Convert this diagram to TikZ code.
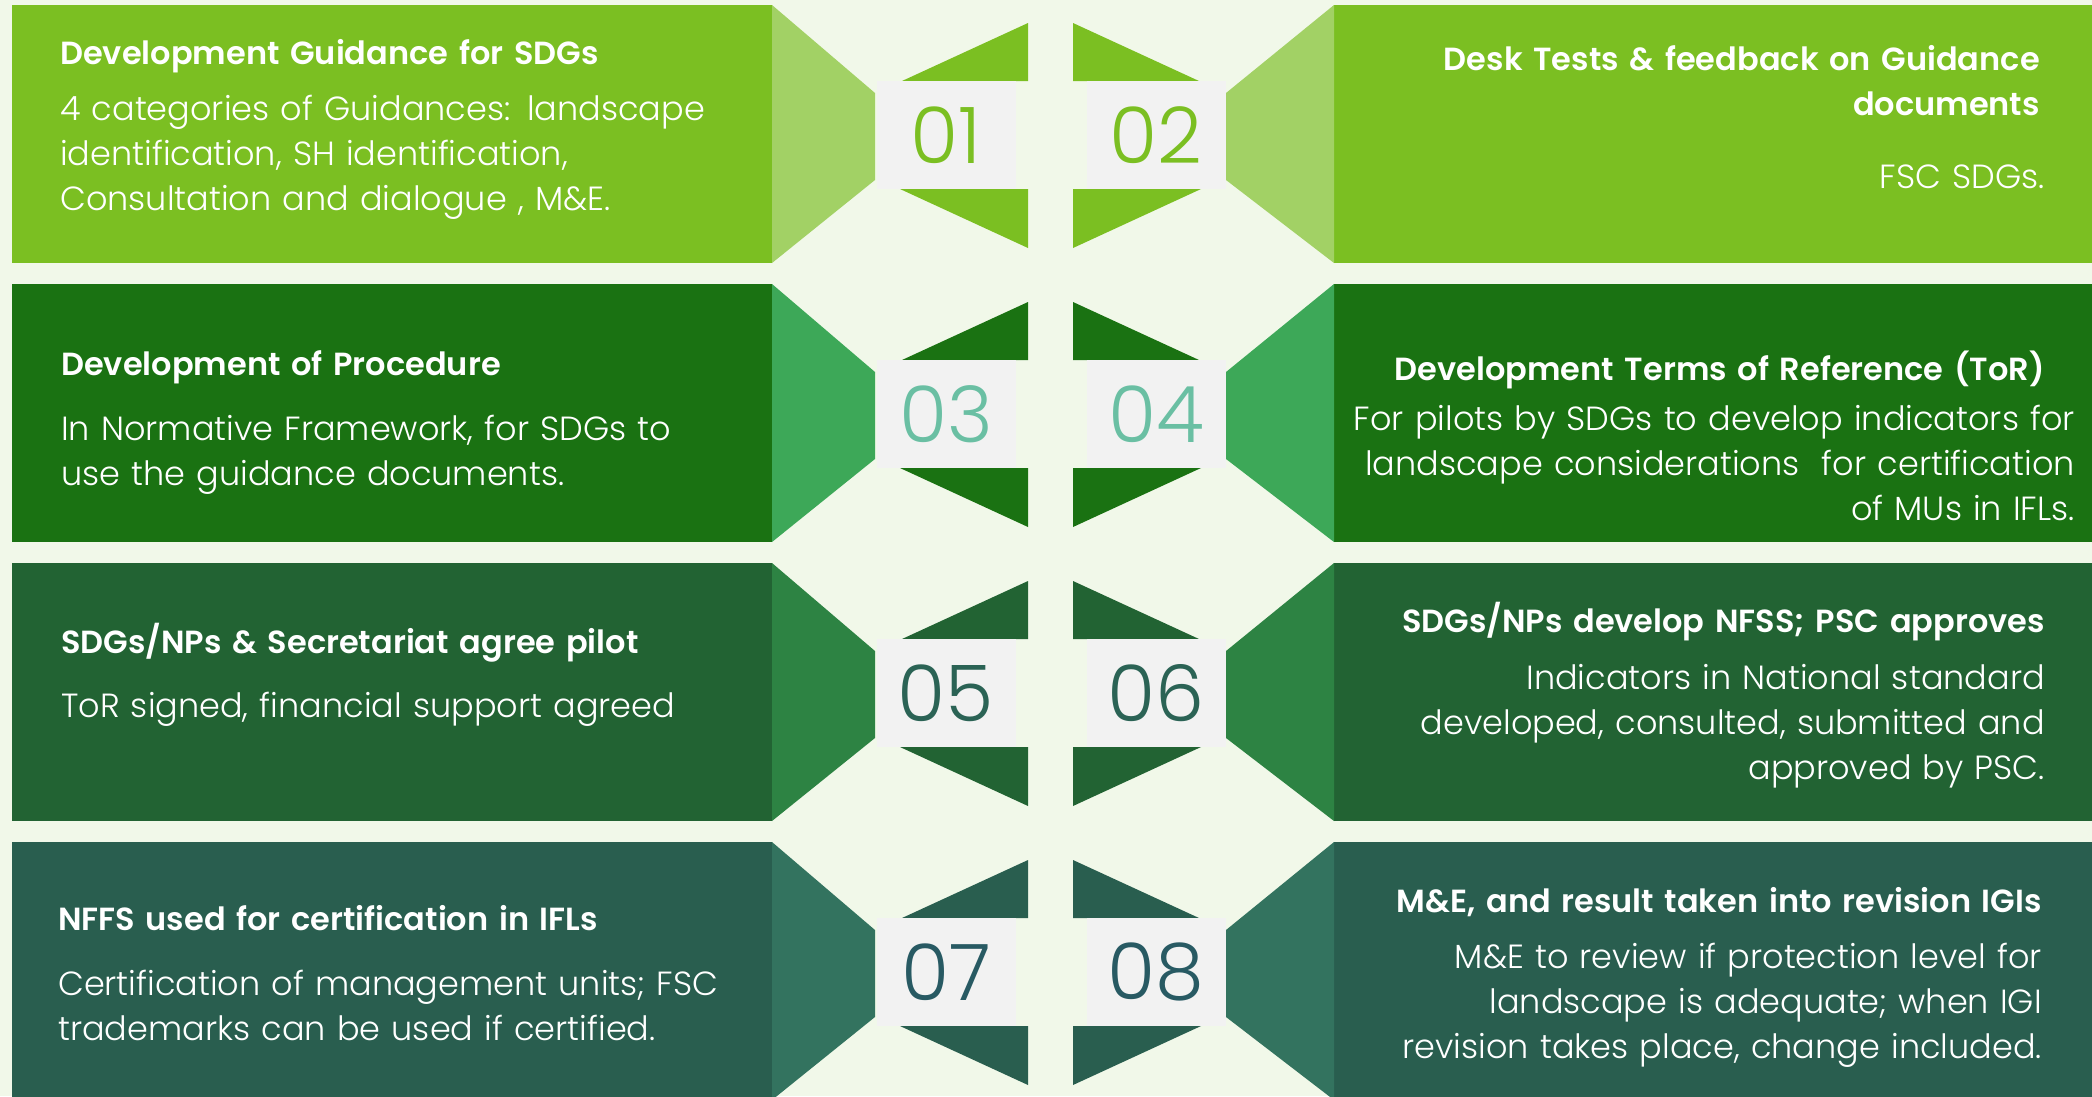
\documentclass[tikz,border=0pt]{standalone}
\usepackage{fontspec}
\setmainfont{Poppins}[UprightFont=* Light, BoldFont=* SemiBold]
\usepackage{tikz}
\usetikzlibrary{positioning}
\definecolor{bgcream}{HTML}{F1F8E9}
\definecolor{sqgrey}{HTML}{F2F2F2}
\definecolor{boxA}{HTML}{7BBF22}
\definecolor{sideA}{HTML}{A2D165}
\definecolor{numA}{HTML}{7BBF22}
\definecolor{boxB}{HTML}{1A7212}
\definecolor{sideB}{HTML}{3DA858}
\definecolor{numB}{HTML}{6ABFA3}
\definecolor{boxC}{HTML}{226333}
\definecolor{sideC}{HTML}{2D8343}
\definecolor{numC}{HTML}{2B6355}
\definecolor{boxD}{HTML}{295E4F}
\definecolor{sideD}{HTML}{33735F}
\definecolor{numD}{HTML}{285A63}
\tikzset{%
    steptitle/.style={%
        text=white, inner sep=0pt, text width=900pt,
        font=\bfseries\fontsize{32}{45}\selectfont
    },
    stepbody/.style={%
        text=white, inner sep=0pt, text width=900pt,
        font=\fontsize{33.5}{45}\selectfont
    },
    numsq/.style={%
        fill=sqgrey, inner sep=0pt, minimum width=139pt, minimum height=108pt,
        font=\fontsize{78}{78}\selectfont
    }
}

\begin{document}
\begin{tikzpicture}[x=1pt,y=-1pt]
	\useasboundingbox (0,0) rectangle (2092,1096);
	\clip (0,0) rectangle (2092,1096);
	\fill[bgcream] (0,0) rectangle (2092,1096);
	\foreach \r/\boxc/\sidec/\numc in {0/boxA/sideA/numA,1/boxB/sideB/numB,2/boxC/sideC/numC,3/boxD/sideD/numD}{
		\pgfmathsetmacro\T{5+279*\r}
		\pgfmathtruncatemacro\ln{2*\r+1}
		\pgfmathtruncatemacro\rn{2*\r+2}
		% left step
		\fill[\boxc] (12,\T) rectangle (772,\T+258);
		\fill[\sidec] (772,\T) -- (875,\T+88) -- (875,\T+175) -- (772,\T+258) -- cycle;
		\fill[\boxc] (1028,\T+18) -- (902,\T+76) -- (1028,\T+76) -- cycle;
		\fill[\boxc] (900,\T+184) -- (1028,\T+184) -- (1028,\T+243) -- cycle;
		\node[numsq, text=\numc] (n\ln) at (946,\T+130) {0\ln};
		% right step
		\fill[\boxc] (1334,\T) rectangle (2092,\T+258);
		\fill[\sidec] (1334,\T) -- (1226,\T+88) -- (1226,\T+175) -- (1334,\T+258) -- cycle;
		\fill[\boxc] (1073,\T+18) -- (1199,\T+76) -- (1073,\T+76) -- cycle;
		\fill[\boxc] (1201,\T+184) -- (1073,\T+184) -- (1073,\T+243) -- cycle;
		\node[numsq, text=\numc] (n\rn) at (1156,\T+130) {0\rn};
	}
	\node[steptitle, anchor=base west, align=left] (t1) at (60,64) {Development Guidance for SDGs};
	\node[stepbody, anchor=base west, align=left] (d1) at (60,120) {4 categories of Guidances: landscape\\identification, SH identification,\\Consultation and dialogue , M\&E.};
	\node[steptitle, anchor=base east, align=right] (t2) at (2040,70) {Desk Tests \& feedback on Guidance\\documents};
	\node[stepbody, anchor=base east, align=right] (d2) at (2045,188) {FSC SDGs.};
	\node[steptitle, anchor=base west, align=left] (t3) at (61,375) {Development of Procedure};
	\node[stepbody, anchor=base west, align=left] (d3) at (61,440) {In Normative Framework, for SDGs to\\use the guidance documents.};
	\node[steptitle, anchor=base east, align=right] (t4) at (2045,380) {Development Terms of Reference (ToR)};
	\node[stepbody, anchor=base east, align=right] (d4) at (2075,430) {For pilots by SDGs to develop indicators for\\landscape considerations\ \ for certification\\of MUs in IFLs.};
	\node[steptitle, anchor=base west, align=left] (t5) at (61,653) {SDGs/NPs \& Secretariat agree pilot};
	\node[stepbody, anchor=base west, align=left] (d5) at (61,717) {ToR signed, financial support agreed};
	\node[steptitle, anchor=base east, align=right] (t6) at (2045,632) {SDGs/NPs develop NFSS; PSC approves};
	\node[stepbody, anchor=base east, align=right] (d6) at (2045,689) {Indicators in National standard\\developed, consulted, submitted and\\approved by PSC.};
	\node[steptitle, anchor=base west, align=left] (t7) at (58,930) {NFFS used for certification in IFLs};
	\node[stepbody, anchor=base west, align=left] (d7) at (58,995) {Certification of management units; FSC\\trademarks can be used if certified.};
	\node[steptitle, anchor=base east, align=right] (t8) at (2042,912) {M\&E, and result taken into revision IGIs};
	\node[stepbody, anchor=base east, align=right] (d8) at (2042,968) {M\&E to review if protection level for\\landscape is adequate; when IGI\\revision takes place, change included.};
\end{tikzpicture}
\end{document}
